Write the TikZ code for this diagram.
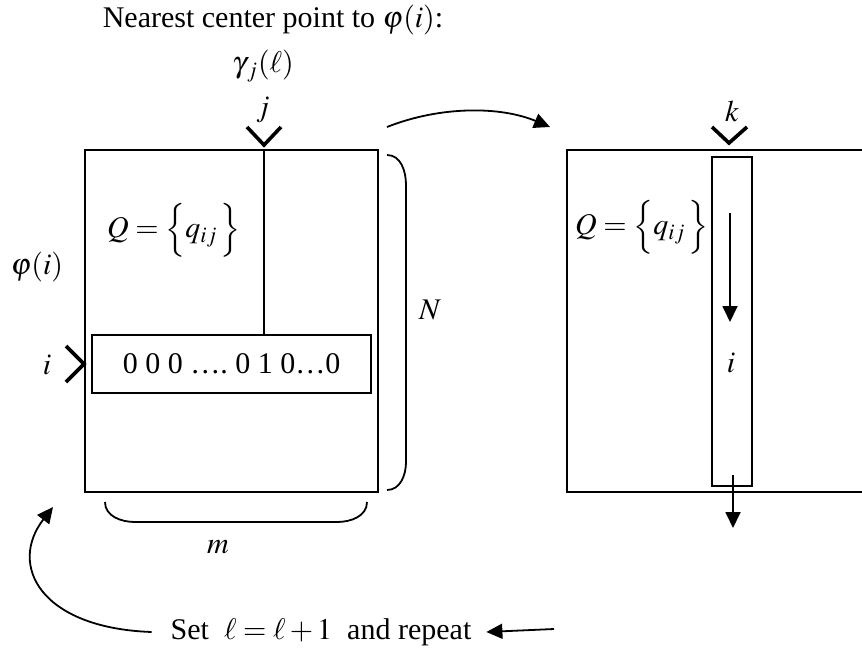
\documentclass[tikz,border=0pt]{standalone}
\usepackage{mathptmx}
\usepackage{fontspec}
\setmainfont{Liberation Serif}
\usetikzlibrary{arrows.meta}

\begin{document}
\begin{tikzpicture}[
  x=0.5pt, y=-0.5pt,
  every node/.style={font=\fontsize{15}{18}\selectfont},
  mbox/.style={draw, line width=1pt, inner sep=0pt},
  chev/.style={line width=1.8pt},
  tarr/.style={-{Triangle[length=8pt,width=7.5pt]}, line width=0.9pt},
  brc/.style={line width=0.9pt}
]
\clip (0,0) rectangle (862,653);
% left matrix
\node[mbox, minimum width=146.5pt, minimum height=171pt] (lmat) at (231.5,321) {};
\node[mbox, minimum width=139.5pt, minimum height=29pt] (row) at (231.5,364) {0 0 0 ….\ 0 1 0…0};
\node (title) at (273,20) {Nearest center point to $\varphi(i)$:};
\node (gam) at (263,66) {$\gamma_{\,j}(\ell)$};
\node (jlab) at (263,110) {$j$};
\node (qleft) at (174,230) {$Q=\Bigl\{q_{ij}\,\Bigr\}$};
\node (phi) at (37,267) {$\varphi(i)$};
\node (ilab) at (47,365) {$i$};
\node (nlab) at (430,310) {$N$};
\node (mlab) at (218,547) {$m$};
\coordinate (jtip) at (264,145);
\coordinate (itip) at (lmat.west |- row.west);
\draw[brc] (jtip |- lmat.north) -- (jtip |- row.north);
\draw[chev] ([shift={(-17,-18)}]jtip) -- (jtip) -- ([shift={(17,-18)}]jtip);
\draw[chev] ([shift={(-18,-18)}]itip) -- (itip) -- ([shift={(-18,18)}]itip);
% braces
\draw[brc] (387,155) to[out=0,in=90] (406,185) -- (406,462) to[out=-90,in=0] (387,490);
\draw[brc] (105,502) to[out=-90,in=180] (135,522) -- (337,522) to[out=0,in=-90] (367,502);
% right matrix
\node[mbox, minimum width=166.5pt, minimum height=171pt] (rmat) at (733.5,321) {};
\node[mbox, minimum width=20pt, minimum height=164.5pt] (col) at (732,321.5) {};
\node (qright) at (642,227) {$Q=\Bigl\{q_{ij}\,\Bigr\}$};
\node (ilab2) at (731,363) {$i$};
\node (klab) at (732,111) {$k$};
\coordinate (ktip) at (729,143);
\draw[chev] ([shift={(-17,-16)}]ktip) -- (ktip) -- ([shift={(18,-16)}]ktip);
\coordinate (dtop) at (730,213);
\coordinate (dbot) at (730,322);
\draw[tarr] (dtop) -- (dbot);
\coordinate (otop) at (733,475);
\coordinate (obot) at (733,528);
\draw[tarr] (otop) -- (obot);
% step to next matrix
\coordinate (stepA) at (387,127);
\coordinate (stepB) at (550,127);
\draw[tarr] (stepA) .. controls (440,106) and (500,106) .. (stepB);
% repeat
\node (rep) at (321,632) {Set~ $\ell=\ell+1$ ~and repeat};
\coordinate (repA) at (554,629);
\coordinate (back) at (53,507);
\draw[tarr] (repA) -- ([xshift=4pt]rep.east);
\draw[tarr] ([xshift=-6pt]rep.west) .. controls (40,628) and (8,565) .. (back);
\end{tikzpicture}
\end{document}
